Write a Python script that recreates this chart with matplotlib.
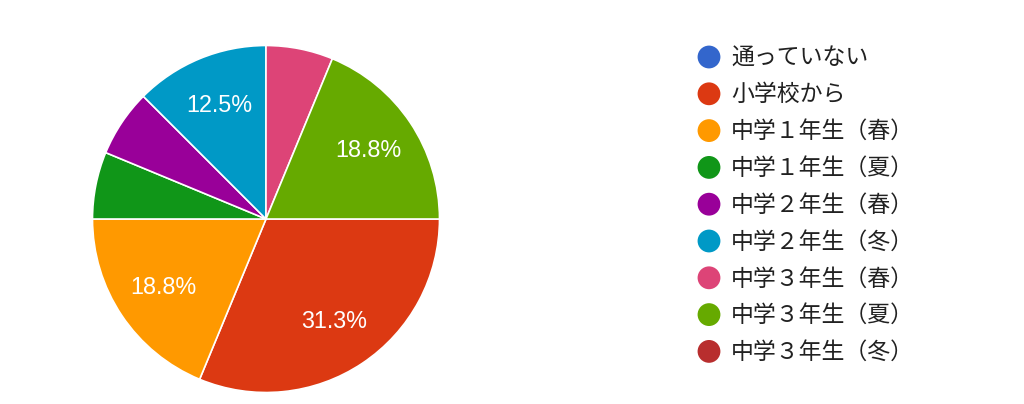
import numpy as np
import matplotlib
matplotlib.use("Agg")
import matplotlib.pyplot as plt

# answers and counts (16 responses)
labels = ["通っていない", "小学校から", "中学１年生（春）", "中学１年生（夏）",
          "中学２年生（春）", "中学２年生（冬）", "中学３年生（春）",
          "中学３年生（夏）", "中学３年生（冬）"]
counts = [0, 5, 3, 1, 1, 2, 1, 3, 0]
colors = ["#3366CC", "#DC3912", "#FF9900", "#109618", "#990099",
          "#0099C6", "#DD4477", "#66AA00", "#B82E2E"]

fig = plt.figure(figsize=(10.24, 4.04), dpi=100)
fig.patch.set_facecolor("white")

# pie (skip empty answers, they only show in the legend)
vals = [c for c in counts if c > 0]
cols = [col for c, col in zip(counts, colors) if c > 0]


def pct_label(p):
    if p < 10:
        return ""
    return "%.1f%%" % (np.floor(p * 10 + 0.5 + 1e-9) / 10)


ax = fig.add_axes([92.5 / 1024, (404 - 219 - 173.5) / 404, 347 / 1024, 347 / 404])
wedges, texts, autotexts = ax.pie(vals, colors=cols, startangle=0, counterclock=False,
                                  autopct=pct_label, pctdistance=0.71, radius=1,
                                  wedgeprops=dict(edgecolor="white", linewidth=1.2))
for t in autotexts:
    t.set_color("white")
    t.set_fontsize(16.8)
    t.set_family("Liberation Sans")
ax.set_xlim(-1, 1)
ax.set_ylim(-1, 1)
ax.set_aspect("equal")
ax.axis("off")

# legend drawn on an overlay in pixel coordinates
lg = fig.add_axes([0, 0, 1, 1])
lg.set_xlim(0, 1024)
lg.set_ylim(404, 0)
lg.axis("off")
row0, step = 57, 36.8
for i, (lab, col) in enumerate(zip(labels, colors)):
    y = row0 + step * i
    lg.scatter([709], [y], s=270, color=col, edgecolors="none")
    lg.text(731, y + 1, lab, va="center", ha="left", fontsize=16.5, color="#212121",
            family=["Noto Sans CJK JP", "DejaVu Sans"])

fig.savefig("out.png", dpi=100)
